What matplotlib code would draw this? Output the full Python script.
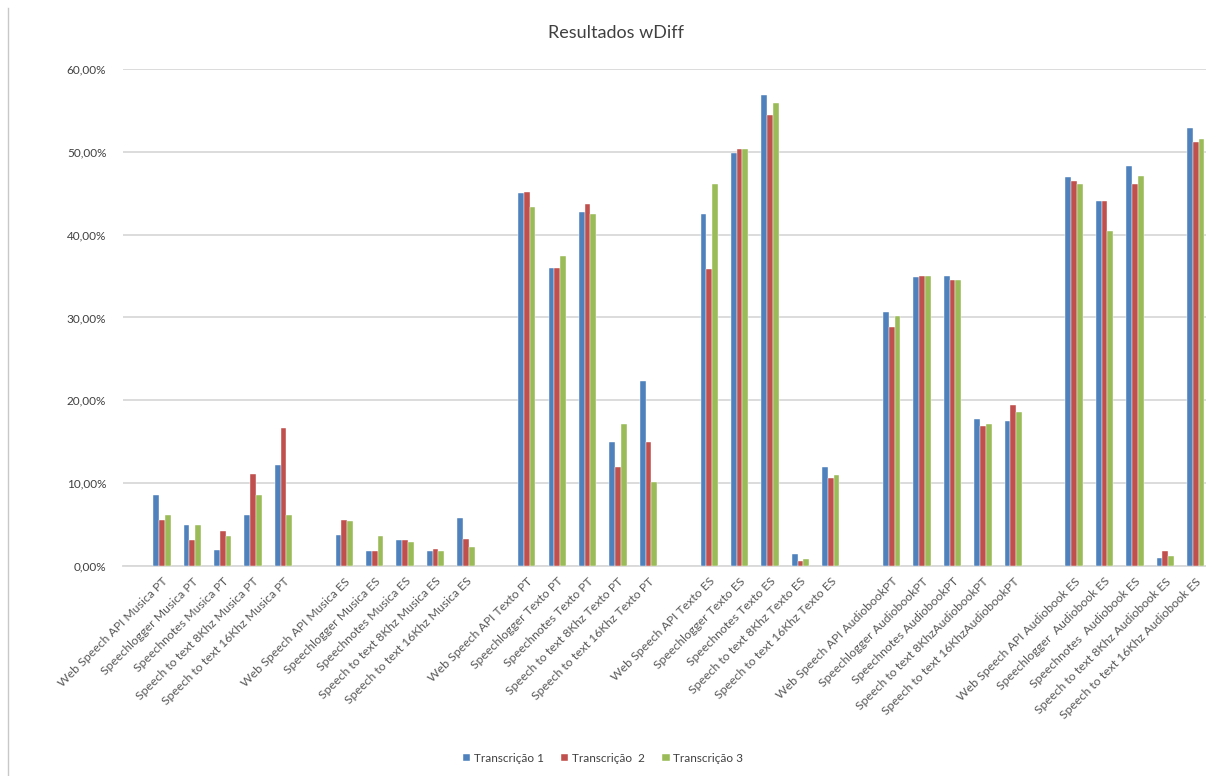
import numpy as np
import matplotlib
matplotlib.use("Agg")
import matplotlib.pyplot as plt
from matplotlib.ticker import FuncFormatter
from matplotlib.lines import Line2D

plt.rcParams['font.family'] = ['Lato', 'DejaVu Sans']

# categories (5 per group, 6 groups)
labels = [
    "Web Speech API Musica PT", "Speechlogger Musica PT", "Speechnotes Musica PT",
    "Speech to text 8Khz Musica PT", "Speech to text 16Khz Musica PT",
    "Web Speech API Musica ES", "Speechlogger Musica ES", "Speechnotes Musica ES",
    "Speech to text 8Khz Musica ES", "Speech to text 16Khz Musica ES",
    "Web Speech API Texto PT", "Speechlogger Texto PT", "Speechnotes Texto PT",
    "Speech to text 8Khz Texto PT", "Speech to text 16Khz Texto PT",
    "Web Speech API Texto ES", "Speechlogger Texto ES", "Speechnotes Texto ES",
    "Speech to text 8Khz Texto ES", "Speech to text 16Khz Texto ES",
    "Web Speech API AudiobookPT", "Speechlogger AudiobookPT", "Speechnotes AudiobookPT",
    "Speech to text 8KhzAudiobookPT", "Speech to text 16KhzAudiobookPT",
    "Web Speech API Audiobook ES", "Speechlogger  Audiobook ES", "Speechnotes  Audiobook ES",
    "Speech to text 8Khz Audiobook ES", "Speech to text 16Khz Audiobook ES",
]

# wDiff results (fraction)
t1 = [0.086, 0.050, 0.019, 0.061, 0.122,
      0.038, 0.018, 0.031, 0.018, 0.058,
      0.450, 0.360, 0.427, 0.150, 0.223,
      0.425, 0.498, 0.569, 0.0145, 0.119,
      0.306, 0.349, 0.350, 0.177, 0.175,
      0.469, 0.440, 0.483, 0.010, 0.529]
t2 = [0.055, 0.031, 0.042, 0.111, 0.166,
      0.056, 0.018, 0.031, 0.021, 0.033,
      0.452, 0.360, 0.437, 0.119, 0.150,
      0.358, 0.503, 0.544, 0.0065, 0.106,
      0.289, 0.350, 0.345, 0.169, 0.194,
      0.465, 0.440, 0.461, 0.018, 0.512]
t3 = [0.061, 0.050, 0.036, 0.086, 0.061,
      0.054, 0.036, 0.029, 0.018, 0.023,
      0.433, 0.374, 0.425, 0.171, 0.102,
      0.461, 0.503, 0.559, 0.0085, 0.110,
      0.302, 0.350, 0.345, 0.171, 0.186,
      0.461, 0.404, 0.471, 0.012, 0.515]
series = ["Transcrição 1", "Transcrição  2", "Transcrição 3"]
colors = ['#4F81BD', '#C0504D', '#9BBB59']

# one empty slot between groups of 5
pos = np.array([i + i // 5 for i in range(len(labels))])

fig = plt.figure(figsize=(12.06, 7.76), dpi=100)
ax = fig.add_axes([0.102, 0.2706, 0.898, 0.6406])

w = 0.19
for k, (vals, name, c) in enumerate(zip([t1, t2, t3], series, colors)):
    ax.bar(pos + (k - 1) * w, vals, width=w, color=c, label=name, zorder=3,
           edgecolor='white', linewidth=0.3)

ax.set_ylim(0, 0.6)
ax.set_xlim(-1.28, 34.34)
ax.set_yticks(np.arange(0, 0.61, 0.1))
ax.yaxis.set_major_formatter(FuncFormatter(lambda v, p: f"{v*100:.2f}%".replace('.', ',')))
ax.grid(axis='y', color='#D9D9D9', linewidth=1.3, zorder=0)
ax.tick_params(axis='y', length=0, labelsize=8.5, labelcolor='#404040', pad=12)
ax.set_xticks(pos)
ax.set_xticklabels(labels, rotation=45, ha='right', rotation_mode='anchor',
                   fontsize=8.8, color='#595959')
ax.tick_params(axis='x', length=0, pad=7)
for s in ['top', 'right', 'left']:
    ax.spines[s].set_visible(False)
ax.spines['bottom'].set_color('#D9D9D9')
ax.spines['bottom'].set_linewidth(1.3)

fig.text(0.511, 0.957, "Resultados wDiff", ha='center', va='center', fontsize=13, color='#404040')

fig.legend(loc='center', bbox_to_anchor=(0.5, 0.023), ncol=3, frameon=False,
           fontsize=8.5, handlelength=0.6, handleheight=0.6, handletextpad=0.3,
           columnspacing=1.5, labelcolor='#404040')

# border of the original chart frame
fig.add_artist(Line2D([0.007, 0.007], [0.0, 0.99], color='#C8C8C8', linewidth=1))

fig.savefig("out.png", dpi=100)
